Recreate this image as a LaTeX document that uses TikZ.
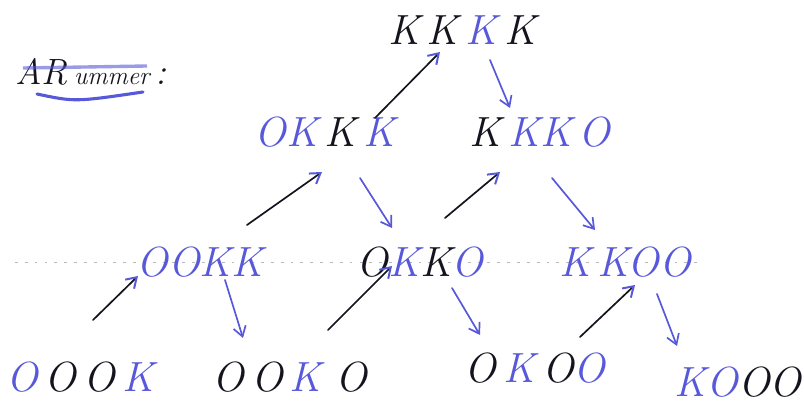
\documentclass[tikz,border=0pt]{standalone}
\usetikzlibrary{arrows.meta}
\definecolor{inkblue}{RGB}{88,88,218}
\definecolor{inkblack}{RGB}{20,20,30}
\definecolor{ruleline}{RGB}{185,185,185}
\newcommand{\bl}[1]{\textcolor{inkblue}{#1}}
\tikzset{
  state/.style={inner sep=0pt, text=inkblack,
    font=\fontsize{30}{32}\selectfont\itshape},
  arr/.style={-{Straight Barb[length=7pt,width=9pt,line width=1.2pt]}, line width=1.2pt, line cap=round},
  uparr/.style={arr, inkblack, -{Straight Barb[length=7pt,width=9pt,line width=1.4pt,color=inkblue]}},
  downarr/.style={arr, inkblue},
  paperline/.style={ruleline, dash pattern=on 2pt off 5pt, line width=0.5pt}
}
\begin{document}
\begin{tikzpicture}[x=0.025cm, y=-0.025cm]
  \useasboundingbox (0,0) rectangle (804,406);
  \fill[white] (0,0) rectangle (804,406);

  % faint ruling of the paper
  \coordinate (r1) at (15,262);
  \coordinate (r2) at (700,262);
  \draw[paperline] (r1) -- (r2);

  % heading
  \node[inner sep=0pt, anchor=west, text=inkblack,
        font=\fontsize{26}{28}\selectfont\itshape] (head) at (15,72)
        {AR\,{\fontsize{18}{20}\selectfont ummer}\,:};
  \draw[inkblue, line width=2.4pt, opacity=0.6] ([shift={(8,-4)}]head.west) -- ([shift={(-20,-6)}]head.east);
  \draw[inkblue, line width=2.2pt, line cap=round] ([shift={(22,22)}]head.west) .. controls ([shift={(60,30)}]head.west) .. ([shift={(-24,20)}]head.east);

  % states
  \node[state] (KKKK) at (462,30) {K\,K\,\bl{K}\,K};
  \node[state] (OKKK) at (325,132) {\bl{O}\bl{K}\,K\,\bl{K}};
  \node[state] (KKKO) at (540,132) {K\,\bl{KK}\,\bl{O}};
  \node[state] (OOKK) at (200,262) {\bl{OO}\bl{KK}};
  \node[state] (OKKO) at (420,262) {O\bl{K}K\bl{O}};
  \node[state] (KKOO) at (625,262) {\bl{K}\,\bl{KOO}};
  \node[state] (OOOK) at (80,377) {\bl{O}\,O\,O\,\bl{K}};
  \node[state] (OOKO) at (290,377) {O\,O\,\bl{K}\,\,O};
  \node[state] (OKOO) at (535,368) {O\,\bl{K}\,O\bl{O}};
  \node[state] (KOOO) at (738,382) {\bl{K}\bl{O}OO};

  % moves up the tree
  \draw[uparr] ([shift={(50,-14)}]OKKK.center) -- ([shift={(-22,22)}]KKKK.center);
  \draw[uparr] ([shift={(47,-37)}]OOKK.center) -- ([shift={(-3,40)}]OKKK.center);
  \draw[uparr] ([shift={(25,-44)}]OKKO.center) -- ([shift={(-40,40)}]KKKO.center);
  \draw[uparr] ([shift={(13,-57)}]OOOK.center) -- ([shift={(-62,14)}]OOKK.center);
  \draw[uparr] ([shift={(38,-47)}]OOKO.center) -- ([shift={(-28,4)}]OKKO.center);
  \draw[uparr] ([shift={(45,-31)}]OKOO.center) -- ([shift={(10,23)}]KKOO.center);

  % moves down the tree
  \draw[downarr] ([shift={(28,30)}]KKKK.center) -- ([shift={(-30,-24)}]KKKO.center);
  \draw[downarr] ([shift={(35,46)}]OKKK.center) -- ([shift={(-28,-34)}]OKKO.center);
  \draw[downarr] ([shift={(12,46)}]KKKO.center) -- ([shift={(-30,-32)}]KKOO.center);
  \draw[downarr] ([shift={(25,18)}]OOKK.center) -- ([shift={(-47,-39)}]OOKO.center);
  \draw[downarr] ([shift={(32,26)}]OKKO.center) -- ([shift={(-55,-33)}]OKOO.center);
  \draw[downarr] ([shift={(32,32)}]KKOO.center) -- ([shift={(-61,-36)}]KOOO.center);
\end{tikzpicture}
\end{document}
